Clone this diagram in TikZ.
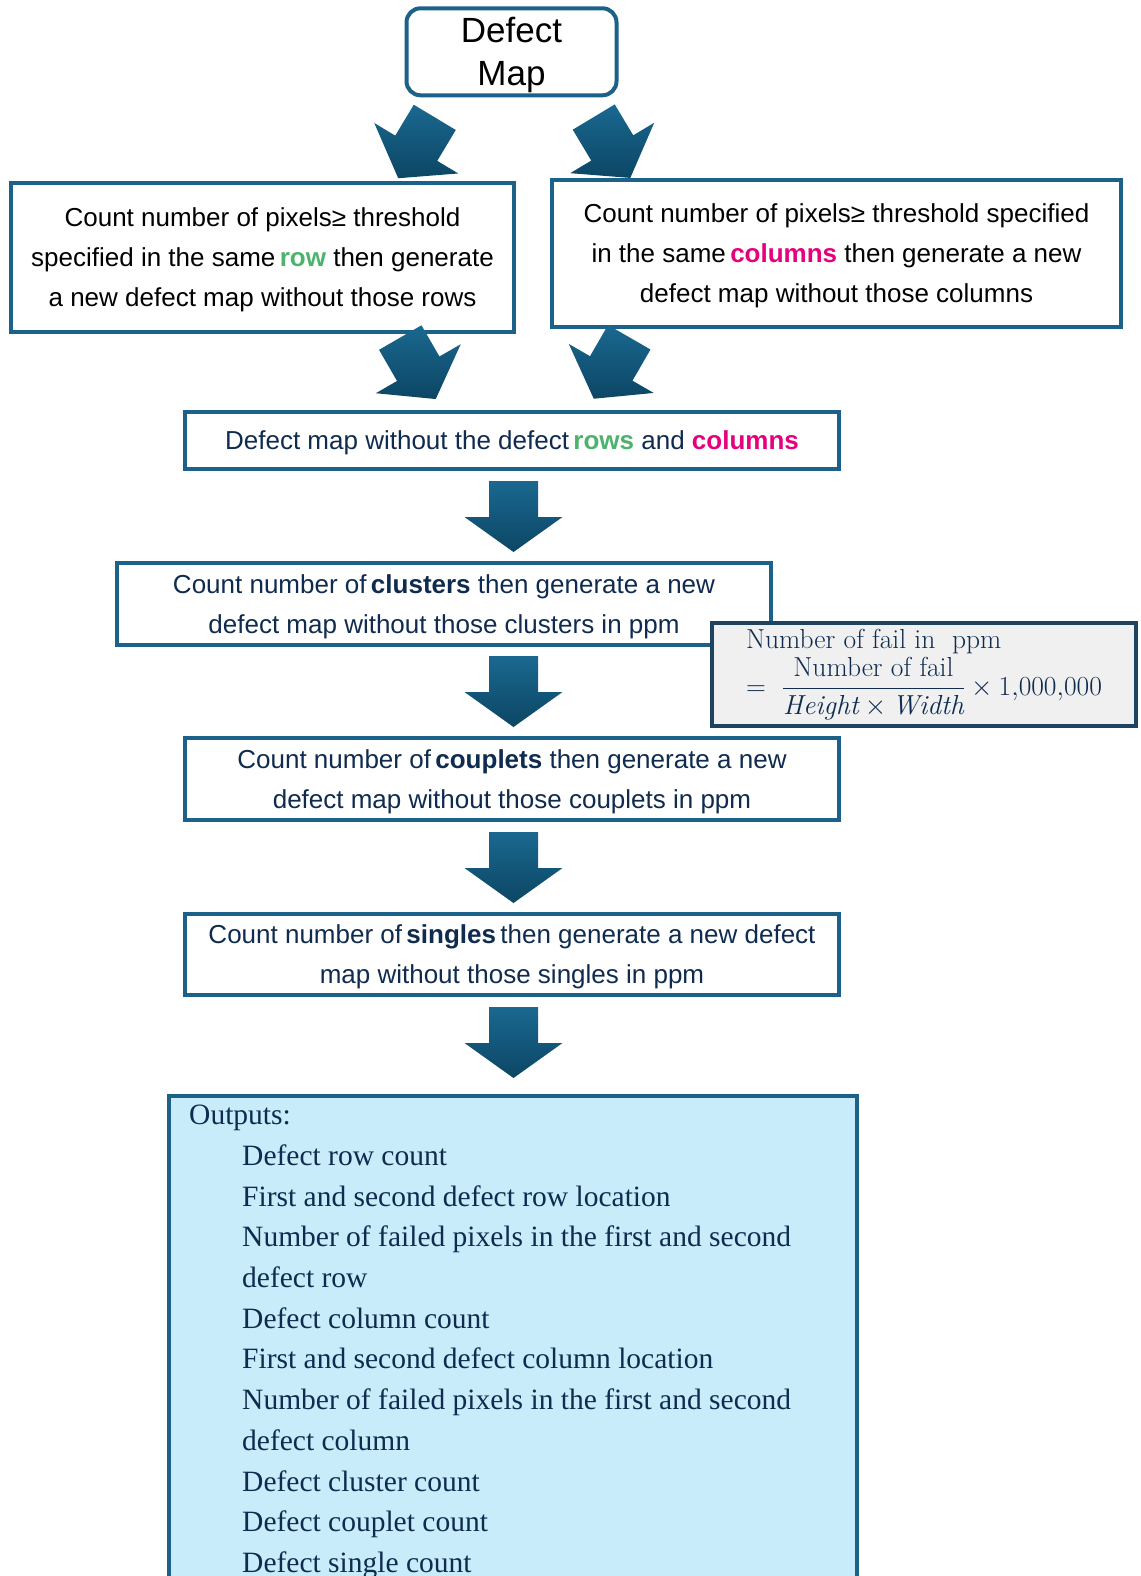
\RequirePackage{fix-cm}
\documentclass[tikz,border=0pt]{standalone}
\usepackage{amsmath}
\usepackage{fontspec}
\setsansfont{Liberation Sans}
\newfontfamily\timesfont{Liberation Serif}
\usetikzlibrary{positioning}

\definecolor{boxblue}{HTML}{1C6189}
\definecolor{textnavy}{HTML}{0F2B4F}
\definecolor{rowgreen}{HTML}{4CB36D}
\definecolor{colmagenta}{HTML}{E5007D}
\definecolor{fmlgray}{HTML}{F0F0F0}
\definecolor{fmlborder}{HTML}{1D4360}
\definecolor{outfill}{HTML}{C9ECFA}
\definecolor{arrowlight}{HTML}{1A6890}
\definecolor{arrowdark}{HTML}{0C4664}

\begin{document}
\begin{tikzpicture}[x=1pt, y=-1pt,
  flowbox/.style={draw=boxblue, line width=4pt, fill=white, align=center, inner sep=0pt,
    text depth=-7pt, font=\sffamily\fontsize{26}{40}\selectfont, text=textnavy},
  fatarrow/.pic={
    \shade[top color=arrowlight, bottom color=arrowdark]
      (-24.5,-35.5) -- (24.5,-35.5) -- (24.5,0.5) -- (49,0.5) -- (0,35.5)
      -- (-49,0.5) -- (-24.5,0.5) -- cycle;
  }]
\useasboundingbox (0,0) rectangle (1140,1576);
\clip (0,0) rectangle (1140,1576);

% boxes
\node[flowbox, rounded corners=14pt, minimum width=210pt, minimum height=87pt, text=black,
  text depth=-3pt, font=\sffamily\fontsize{35}{43}\selectfont] (map) at (511.5,51.8) {Defect\\Map};
\node[flowbox, minimum width=503pt, minimum height=149pt, text=black] (rowbox) at (262.5,257.5)
  {Count number of pixels≥ threshold\\specified in the same\,\textcolor{rowgreen}{\textbf{row}} then generate\\a new defect map without those rows};
\node[flowbox, minimum width=569pt, minimum height=147pt, text=black] (colbox) at (836.5,253.5)
  {Count number of pixels≥ threshold specified\\in the same\,\textcolor{colmagenta}{\textbf{columns}} then generate a new\\defect map without those columns};
\node[flowbox, minimum width=654pt, minimum height=57pt] (nodefect) at (512,440.5)
  {Defect map without the defect\,\textcolor{rowgreen}{\textbf{rows}} and \textcolor{colmagenta}{\textbf{columns}}};
\node[flowbox, minimum width=654pt, minimum height=82pt] (clusters) at (444,604)
  {Count number of\,\textbf{clusters} then generate a new\\defect map without those clusters in ppm};
\node[draw=fmlborder, line width=4pt, fill=fmlgray, align=left, text=textnavy,
  minimum width=424pt, minimum height=103pt, font=\fontsize{27.5}{30}\selectfont] (ppm) at (924,674.5)
  {Number of fail in\ \ ppm\\[3pt]
   $=\ \dfrac{\text{Number of fail}}{\mathit{Height}\times\mathit{Width}}\times 1{,}000{,}000$};
\node[flowbox, minimum width=654pt, minimum height=82pt] (couplets) at (512,779)
  {Count number of\,\textbf{couplets} then generate a new\\defect map without those couplets in ppm};
\node[flowbox, minimum width=654pt, minimum height=81pt] (singles) at (512,954.5)
  {Count number of\,\textbf{singles}\,then generate a new defect\\map without those singles in ppm};
\node[flowbox, fill=outfill, minimum width=688pt, minimum height=524pt] (outputs) at (513,1358) {};
\node[anchor=north west, align=left, inner sep=0pt, text=textnavy,
  font=\timesfont\fontsize{29.5}{40.7}\selectfont] (outlist) at (189,1105)
  {Outputs:\\
   \hspace*{53pt}Defect row count\\
   \hspace*{53pt}First and second defect row location\\
   \hspace*{53pt}Number of failed pixels in the first and second\\
   \hspace*{53pt}defect row\\
   \hspace*{53pt}Defect column count\\
   \hspace*{53pt}First and second defect column location\\
   \hspace*{53pt}Number of failed pixels in the first and second\\
   \hspace*{53pt}defect column\\
   \hspace*{53pt}Defect cluster count\\
   \hspace*{53pt}Defect couplet count\\
   \hspace*{53pt}Defect single count};

% block arrows
\pic[rotate=-31] (toL) at (416.5,147.8) {fatarrow};
\pic[rotate=31] (toR) at (612,147.5) {fatarrow};
\pic[rotate=30] (fromL) at (418,368.3) {fatarrow};
\pic[rotate=-30] (fromR) at (611.5,368) {fatarrow};
\pic (toclusters) at (513.5,516.5) {fatarrow};
\pic (tocouplets) at (513.5,691.5) {fatarrow};
\pic (tosingles) at (513.5,867.5) {fatarrow};
\pic (tooutputs) at (513.5,1042.5) {fatarrow};
\end{tikzpicture}
\end{document}
